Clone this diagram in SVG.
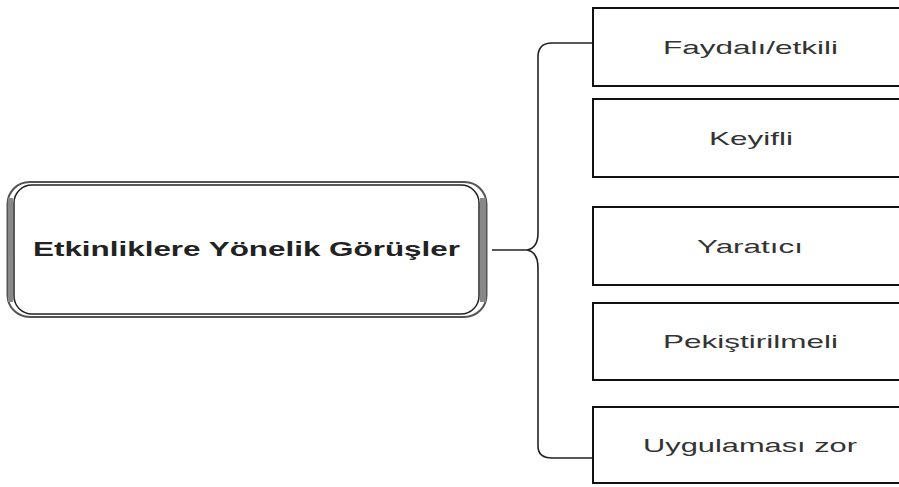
<svg xmlns="http://www.w3.org/2000/svg" width="899" height="487" viewBox="0 0 899 487">
<style>
.box{fill:#fff;stroke:#111;stroke-width:2}
.lbl{font-family:"Liberation Sans",Arial,sans-serif;font-size:19px;fill:#333;text-anchor:middle}
.main{font-family:"Liberation Sans",Arial,sans-serif;font-size:20px;font-weight:bold;fill:#222;text-anchor:middle}
.conn{fill:none;stroke:#222;stroke-width:1.6}
</style>
<rect width="899" height="487" fill="#fff"/>
<g id="main">
<rect x="7.5" y="182" width="479" height="135" rx="22" fill="#fff" stroke="#555" stroke-width="2"/>
<rect x="8" y="198" width="5" height="104" fill="#888"/>
<rect x="480" y="198" width="6" height="104" fill="#888"/>
<rect x="14" y="185" width="465" height="129" rx="18" fill="#fff" stroke="#222" stroke-width="1.5"/>
<text class="main" x="246.5" y="256" textLength="427" lengthAdjust="spacingAndGlyphs">Etkinliklere Yönelik Görüşler</text>
</g>
<g id="connectors">
<path class="conn" d="M593,43 H552 Q538,43 538,57 V233 Q538,248 527,250 Q538,252 538,268 V446 Q538,458 552,458 H593"/>
<path class="conn" d="M492,250 H527"/>
</g>
<g id="n1"><rect class="box" x="593" y="8" width="320" height="78"/><text class="lbl" x="750.5" y="54" textLength="175" lengthAdjust="spacingAndGlyphs">Faydalı/etkili</text></g>
<g id="n2"><rect class="box" x="593" y="99" width="320" height="78"/><text class="lbl" x="751" y="145" textLength="84" lengthAdjust="spacingAndGlyphs">Keyifli</text></g>
<g id="n3"><rect class="box" x="593" y="207" width="320" height="78"/><text class="lbl" x="750" y="253" textLength="106" lengthAdjust="spacingAndGlyphs">Yaratıcı</text></g>
<g id="n4"><rect class="box" x="593" y="303" width="320" height="77"/><text class="lbl" x="750.5" y="348" textLength="175" lengthAdjust="spacingAndGlyphs">Pekiştirilmeli</text></g>
<g id="n5"><rect class="box" x="593" y="407" width="320" height="76"/><text class="lbl" x="750" y="452" textLength="214" lengthAdjust="spacingAndGlyphs">Uygulaması zor</text></g>
</svg>
